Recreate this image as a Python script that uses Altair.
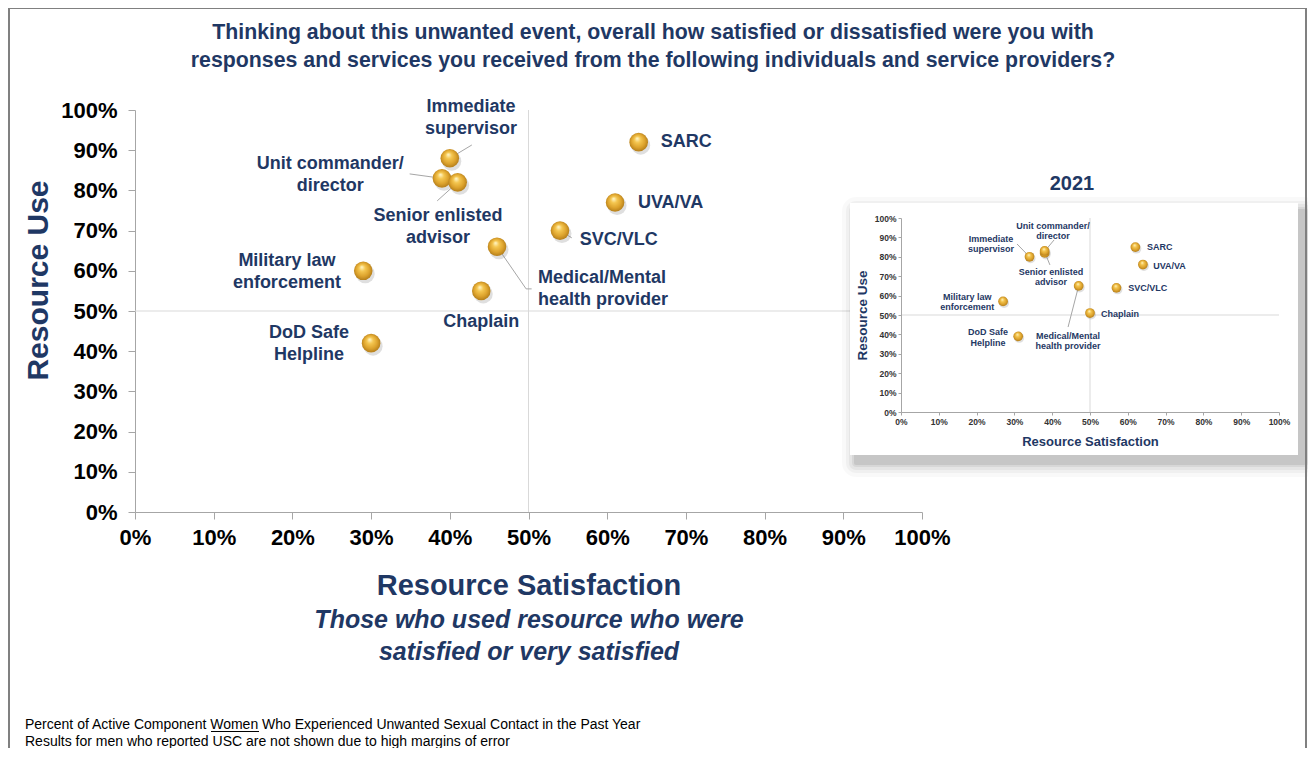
import altair as alt
import pandas as pd

# ---------------- data ----------------
resources = ["SARC", "UVA/VA", "SVC/VLC", "Medical/Mental health provider", "Chaplain",
             "Immediate supervisor", "Unit commander/director", "Senior enlisted advisor",
             "Military law enforcement", "DoD Safe Helpline"]
satisfaction = [64, 61, 54, 46, 44, 40, 39, 41, 29, 30]
use = [92, 77, 70, 66, 55, 88, 83, 82, 60, 42]
satisfaction_2021 = [62, 64, 57, 47, 50, 34, 38, 38, 27, 31]
use_2021 = [85, 76, 64, 65, 51, 80, 82, 83, 57, 39]
label_lines = [["SARC"], ["UVA/VA"], ["SVC/VLC"], ["Medical/Mental", "health provider"], ["Chaplain"],
               ["Immediate", "supervisor"], ["Unit commander/", "director"], ["Senior enlisted", "advisor"],
               ["Military law", "enforcement"], ["DoD Safe", "Helpline"]]
tick_values = list(range(0, 101, 10))

title_lines = ["Thinking about this unwanted event, overall how satisfied or dissatisfied were you with",
               "responses and services you received from the following individuals and service providers?"]
x_title = "Resource Satisfaction"
x_subtitle = ["Those who used resource who were", "satisfied or very satisfied"]
y_title = "Resource Use"
inset_title = "2021"
footnotes = ["Percent of Active Component Women Who Experienced Unwanted Sexual Contact in the Past Year",
             "Results for men who reported USC are not shown due to high margins of error"]

# ---------------- layout (label anchors = first text line, in data units) ----------------
main_label_x = [66.8, 63.9, 56.5, 51.2, 44.0, 42.7, 24.8, 38.5, 19.3, 22.1]
main_label_y = [92.0, 76.9, 67.7, 58.2, 47.3, 100.7, 86.6, 73.6, 62.4, 44.5]
main_label_align = ["left", "left", "left", "left", "center", "center", "center", "center", "center", "center"]
inset_label_x = [65.1, 66.7, 60.1, 44.2, 52.9, 23.8, 40.2, 39.7, 17.5, 23.0]
inset_label_y = [85.1, 75.3, 63.9, 39.2, 50.5, 89.2, 95.9, 72.2, 59.3, 41.2]
inset_label_align = ["left", "left", "left", "center", "left", "center", "center", "center", "center", "center"]

main_leaders = [(40.0, 88.0, 42.8, 91.3), (34.9, 84.1, 39.0, 83.0), (38.4, 77.4, 41.0, 82.0),
                (46.0, 66.0, 49.7, 55.5), (49.7, 55.5, 50.4, 55.5), (54.0, 70.0, 55.5, 68.2)]
inset_leaders = [(30.7, 86.6, 34.0, 80.0), (40.5, 88.7, 38.5, 84.0), (38.0, 82.5, 39.4, 75.8),
                 (47.0, 65.0, 44.2, 43.8)]

NAVY = "#1F3864"
FONT = "Liberation Sans"
GRID = "#D9D9D9"
AXIS = "#A6A6A6"

W, H = 787, 402

pts = pd.DataFrame({"resource": resources, "sat": satisfaction, "use": use})
pts21 = pd.DataFrame({"resource": resources, "sat": satisfaction_2021, "use": use_2021})
lab = pd.DataFrame({"resource": resources, "lx": main_label_x, "ly": main_label_y,
                    "text": label_lines, "align": main_label_align})
lab21 = pd.DataFrame({"resource": resources, "lx": inset_label_x, "ly": inset_label_y,
                      "text": label_lines, "align": inset_label_align})
lead = pd.DataFrame(main_leaders, columns=["x1", "y1", "x2", "y2"])
lead21 = pd.DataFrame(inset_leaders, columns=["x1", "y1", "x2", "y2"])
one = pd.DataFrame({"k": [0]})

sphere = alt.RadialGradient(
    gradient="radial", x1=0.42, y1=0.3, r1=0.02, x2=0.5, y2=0.5, r2=0.56,
    stops=[alt.GradientStop(color="#FFF4C2", offset=0),
           alt.GradientStop(color="#F4C650", offset=0.28),
           alt.GradientStop(color="#DCA22C", offset=0.65),
           alt.GradientStop(color="#A87416", offset=1)])

LABEL_EXPR = "datum.value + '%'"

# ---------------- main chart ----------------
sx = alt.Scale(domain=[0, 100], nice=False, zero=False)
sy = alt.Scale(domain=[0, 100], nice=False, zero=False)
ax = alt.Axis(values=tick_values, labelExpr=LABEL_EXPR, grid=False, domainColor=AXIS, tickColor=AXIS,
              tickSize=7, labelPadding=8, labelFont=FONT, labelFontSize=22, labelFontWeight="bold",
              labelColor="#000000", labelFlush=False, labelOverlap=False,
              title=x_title, titleFont=FONT, titleFontSize=29, titleFontWeight="bold", titleColor=NAVY,
              titleY=73, titleBaseline="middle", titleAlign="center")
ay = alt.Axis(values=tick_values, labelExpr=LABEL_EXPR, grid=False, domainColor=AXIS, tickColor=AXIS,
              tickSize=7, labelPadding=11, labelFont=FONT, labelFontSize=22, labelFontWeight="bold",
              labelColor="#000000", labelFlush=False, labelOverlap=False,
              title=y_title, titleFont=FONT, titleFontSize=30, titleFontWeight="bold", titleColor=NAVY,
              titleX=-97, titleY=170, titleAngle=270, titleBaseline="middle", titleAlign="center")


def mx(f, **kw):
    return alt.X(f, type="quantitative", scale=sx, axis=ax, **kw)


def my(f, **kw):
    return alt.Y(f, type="quantitative", scale=sy, axis=ay, **kw)


ref_v = alt.Chart(one).mark_rule(color=GRID, strokeWidth=1).encode(
    x=alt.X(datum=50, type="quantitative", scale=sx, axis=ax),
    y=alt.Y(datum=0, type="quantitative", scale=sy, axis=ay), y2=alt.Y2(datum=100))
ref_h = alt.Chart(one).mark_rule(color=GRID, strokeWidth=1).encode(
    y=alt.Y(datum=50, type="quantitative", scale=sy, axis=ay),
    x=alt.X(datum=0, type="quantitative", scale=sx, axis=ax), x2=alt.X2(datum=100))
leaders = alt.Chart(lead).mark_rule(color="#A6A6A6", strokeWidth=1).encode(
    x=mx("x1"), y=my("y1"), x2="x2:Q", y2="y2:Q")
shadows = alt.Chart(pts).mark_circle(size=360, color="#7F7F7F", opacity=0.25, xOffset=2, yOffset=3).encode(
    x=mx("sat"), y=my("use"))
points = alt.Chart(pts).mark_circle(size=346, fill=sphere, fillOpacity=1, opacity=1).encode(
    x=mx("sat"), y=my("use"), tooltip=["resource", "sat", "use"])
lab_base = alt.Chart(lab)
labels_l = lab_base.transform_filter("datum.align == 'left'").mark_text(
    align="left", baseline="middle", font=FONT, fontSize=18, fontWeight="bold", color=NAVY,
    lineHeight=22).encode(x=mx("lx"), y=my("ly"), text="text")
labels_c = lab_base.transform_filter("datum.align == 'center'").mark_text(
    align="center", baseline="middle", font=FONT, fontSize=18, fontWeight="bold", color=NAVY,
    lineHeight=22).encode(x=mx("lx"), y=my("ly"), text="text")

main = alt.layer(ref_v, ref_h, leaders, shadows, points, labels_l, labels_c)

# ---------------- inset (2021) ----------------
IX0, IX1 = 766, 1144
IY0, IY1 = 302, 108
isx = alt.Scale(domain=[0, 100], nice=False, zero=False, range=[IX0, IX1])
isy = alt.Scale(domain=[0, 100], nice=False, zero=False, range=[IY0, IY1])
iax = alt.Axis(orient="bottom", offset=IY0 - H, zindex=2, values=tick_values, labelExpr=LABEL_EXPR,
               grid=False, domainColor=AXIS, tickColor=AXIS, tickSize=3, labelPadding=2, labelFont=FONT,
               labelFontSize=8.5, labelFontWeight="bold", labelColor="#333333", labelFlush=False,
               labelOverlap=False, title=x_title, titleFont=FONT, titleFontSize=13,
               titleFontWeight="bold", titleColor=NAVY, titleY=29, titleBaseline="middle",
               titleAlign="center")
iay = alt.Axis(orient="left", offset=-IX0, zindex=2, values=tick_values, labelExpr=LABEL_EXPR,
               grid=False, domainColor=AXIS, tickColor=AXIS, tickSize=3, labelPadding=2, labelFont=FONT,
               labelFontSize=8.5, labelFontWeight="bold", labelColor="#333333", labelFlush=False,
               labelOverlap=False, title=y_title, titleFont=FONT, titleFontSize=13.5,
               titleFontWeight="bold", titleColor=NAVY, titleX=-39, titleAngle=270,
               titleBaseline="middle", titleAlign="center")


def ix(f, **kw):
    return alt.X(f, type="quantitative", scale=isx, axis=iax, **kw)


def iy(f, **kw):
    return alt.Y(f, type="quantitative", scale=isy, axis=iay, **kw)


iref_v = alt.Chart(one).mark_rule(color=GRID, strokeWidth=1).encode(
    x=alt.X(datum=50, type="quantitative", scale=isx, axis=iax),
    y=alt.Y(datum=0, type="quantitative", scale=isy, axis=iay), y2=alt.Y2(datum=100))
iref_h = alt.Chart(one).mark_rule(color=GRID, strokeWidth=1).encode(
    y=alt.Y(datum=50, type="quantitative", scale=isy, axis=iay),
    x=alt.X(datum=0, type="quantitative", scale=isx, axis=iax), x2=alt.X2(datum=100))
ileaders = alt.Chart(lead21).mark_rule(color="#A6A6A6", strokeWidth=1).encode(
    x=ix("x1"), y=iy("y1"), x2="x2:Q", y2="y2:Q")
ishadows = alt.Chart(pts21).mark_circle(size=100, color="#7F7F7F", opacity=0.25, xOffset=1, yOffset=1.5).encode(
    x=ix("sat"), y=iy("use"))
ipoints = alt.Chart(pts21).mark_circle(size=95, fill=sphere, fillOpacity=1, opacity=1).encode(
    x=ix("sat"), y=iy("use"), tooltip=["resource", "sat", "use"])
ilab_base = alt.Chart(lab21)
ilabels_l = ilab_base.transform_filter("datum.align == 'left'").mark_text(
    align="left", baseline="middle", font=FONT, fontSize=9, fontWeight="bold", color=NAVY,
    lineHeight=10.5).encode(x=ix("lx"), y=iy("ly"), text="text")
ilabels_c = ilab_base.transform_filter("datum.align == 'center'").mark_text(
    align="center", baseline="middle", font=FONT, fontSize=9, fontWeight="bold", color=NAVY,
    lineHeight=10.5).encode(x=ix("lx"), y=iy("ly"), text="text")

inset = alt.layer(iref_v, iref_h, ileaders, ishadows, ipoints, ilabels_l, ilabels_c)

# ---------------- decorations (pixel positions relative to main plot origin) ----------------
BX0, BY0, BX1, BY1 = 715, 93, 1163, 345
deco = []
for spread, op in [(14, 0.025), (10, 0.035), (7, 0.045), (4, 0.06), (2, 0.08)]:
    deco.append(alt.Chart(one).mark_rect(color="#000000", opacity=op, cornerRadius=spread).encode(
        x=alt.value(BX0 + 6 - spread), x2=alt.value(BX1 + 6 + spread),
        y=alt.value(BY0 + 8 - spread), y2=alt.value(BY1 + 8 + spread)))
deco.append(alt.Chart(one).mark_rect(color="#FFFFFF").encode(
    x=alt.value(BX0), x2=alt.value(BX1), y=alt.value(BY0), y2=alt.value(BY1)))


def txt(text, x, y, size, color=NAVY, align="center", weight="bold", style="normal", lh=None):
    kw = dict(align=align, baseline="middle", font=FONT, fontSize=size, fontWeight=weight,
              fontStyle=style, color=color)
    if lh is not None:
        kw["lineHeight"] = lh
    return alt.Chart(one).mark_text(**kw).encode(x=alt.value(x), y=alt.value(y), text=alt.value(text))


texts = [
    txt(title_lines, 518, -77, 21.3, lh=28),
    txt(x_subtitle, 394, 510, 25, style="italic", lh=32),
    txt(inset_title, 937, 74, 20),
    txt(footnotes, -110, 615, 14, color="#000000", weight="normal", align="left", lh=17),
]
underline = alt.Chart(one).mark_rule(color="#000000", strokeWidth=1).encode(
    x=alt.value(76), x2=alt.value(124), y=alt.value(621.5))
frame = alt.Chart(one).mark_rect(fill="#FFFFFF", fillOpacity=0, stroke="#808080", strokeWidth=2).encode(
    x=alt.value(-126), x2=alt.value(1171), y=alt.value(-102), y2=alt.value(720))

chart = alt.layer(main, *deco, inset, *texts, underline, frame).resolve_scale(
    x="independent", y="independent").resolve_axis(x="independent", y="independent").properties(
    width=W, height=H, autosize=alt.AutoSizeParams(type="none"),
    padding={"left": 127, "top": 102, "right": 386, "bottom": 236},
    background="#FFFFFF").configure_view(strokeWidth=0)

chart.save("out.html", embed_options={"renderer": "svg", "actions": False})
